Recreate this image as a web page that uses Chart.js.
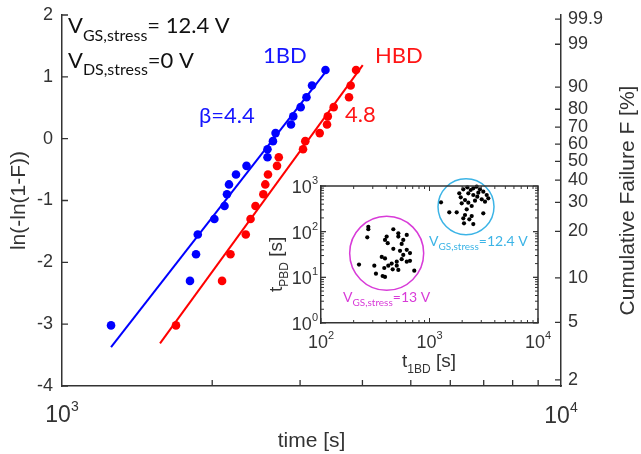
<!DOCTYPE html>
<html>
<head>
<meta charset="utf-8">
<script src="https://cdn.jsdelivr.net/npm/chart.js@4"></script>
<style>
  html, body { margin: 0; padding: 0; background: #fff; }
  #wrap { position: relative; width: 641px; height: 454px; }
  #mainChart { position: absolute; left: 0; top: 0; }
  #insetChart { position: absolute; left: 260px; top: 170px; }
</style>
</head>
<body>
<div id="wrap">
  <canvas id="mainChart" width="641" height="454"></canvas>
  <canvas id="insetChart" width="300" height="210"></canvas>
</div>
<script>
// Weibull plot: ln(-ln(1-F)) for the 20 devices
const weibullY = [-3.02, -2.30, -1.87, -1.55, -1.30, -1.09, -0.90, -0.74, -0.58, -0.44,
                  -0.30, -0.17, -0.04, 0.09, 0.23, 0.36, 0.51, 0.67, 0.86, 1.11];
// time to first breakdown (1BD) and hard breakdown (HBD), seconds
const firstBdTime = [1254, 1805, 1856, 1871, 2020, 2117, 2141, 2161, 2232, 2343,
                     2581, 2581, 2647, 2679, 2877, 2907, 3008, 3090, 3170, 3373];
const hardBdTime = [1692, 2093, 2176, 2335, 2387, 2442, 2532, 2555, 2587, 2697,
                    2719, 3041, 3073, 3284, 3397, 3409, 3503, 3760, 3789, 3884];
// fitted lines (end points)
const firstBdFitX = [1254, 3397];
const firstBdFitY = [-3.37, 1.11];
const hardBdFitX = [1572, 4006];
const hardBdFitY = [-3.31, 1.19];

const leftTicks = [-4, -3, -2, -1, 0, 1, 2];
const rightTickLabels = ['99.9', '99', '90', '80', '70', '60', '50', '40', '30', '20', '10', '5', '2'];
const bottomMinorTicks = [2000, 3000, 4000, 5000, 6000, 7000, 8000, 9000];

// inset: t_PBD versus t_1BD
const t1bd13V = [273, 273, 267, 464, 516, 516, 617, 403, 389, 412, 573, 554, 464, 535, 617, 661, 363, 389,
                 573, 554, 499, 448, 417, 499, 617, 661, 224, 310, 383, 458, 516, 724, 321, 370, 389];
const tpbd13V = [128, 113, 75, 113, 92, 78, 85, 78, 66, 56, 66, 54, 42, 38, 40, 34, 28, 26,
                 31, 25, 22, 20, 18, 18, 22, 23, 19, 18, 16, 15, 14.5, 14, 12, 10.7, 10.2];
const t1bd124V = [1276, 1522, 1781, 1882, 1940, 2049, 2231, 2397, 2533, 2723, 2920, 3132, 3367, 2279, 2533, 2757,
                  3028, 2124, 2279, 2626, 2449, 2203, 3132, 2124, 2049, 2328, 2449, 2533, 2080, 3483, 2818, 1981, 3247];
const tpbd124V = [440, 265, 265, 692, 565, 846, 936, 817, 890, 965, 846, 750, 635, 692, 635, 583,
                  511, 493, 431, 476, 365, 309, 252, 232, 196, 186, 220, 147, 152, 537, 713, 418, 453];
const circleX = [403, 2170];
const circleY = [33.6, 352];
const circleR = [37, 28];
const circleColors = ['#d83bd8', '#3cb4e6'];

const axisFont = '"Liberation Sans", Arial, sans-serif';
const noteFont = 'Lato, "Open Sans", sans-serif';
const axisColor = '#333333';

function richWidth(ctx, parts, family) {
  let w = 0;
  parts.forEach(p => { ctx.font = p.size + 'px ' + family; w += ctx.measureText(p.text).width; });
  return w;
}

function drawRich(ctx, x, y, parts, color, family) {
  ctx.fillStyle = color;
  ctx.textAlign = 'left';
  ctx.textBaseline = 'alphabetic';
  let cx = x;
  parts.forEach(p => {
    ctx.font = p.size + 'px ' + family;
    ctx.fillText(p.text, cx, y + (p.dy || 0));
    cx += ctx.measureText(p.text).width;
  });
}

function drawPower(ctx, x, baseline, exp, size, align) {
  const parts = [{ text: '10', size: size }, { text: exp, size: Math.round(size * 0.62), dy: -size * 0.5 }];
  const w = richWidth(ctx, parts, axisFont);
  const x0 = align === 'right' ? x - w : x - w / 2;
  drawRich(ctx, x0, baseline, parts, axisColor, axisFont);
}

// keep the plot area where the layout padding puts it
function fixWidth(w) {
  return s => { s.width = w; s.paddingTop = 0; s.paddingBottom = 0; };
}

const mainDecor = {
  id: 'mainDecor',
  afterDraw(chart) {
    const { ctx, chartArea: a, scales: { x, y, y2 } } = chart;
    ctx.save();
    ctx.strokeStyle = axisColor;
    ctx.lineWidth = 1.3;
    ctx.beginPath();
    leftTicks.forEach(v => { const py = y.getPixelForValue(v); ctx.moveTo(a.left, py); ctx.lineTo(a.left + 6, py); });
    y2.ticks.forEach(t => { const py = y2.getPixelForValue(t.value); ctx.moveTo(a.right, py); ctx.lineTo(a.right - 6, py); });
    bottomMinorTicks.forEach(v => { const px = x.getPixelForValue(v); ctx.moveTo(px, a.bottom); ctx.lineTo(px, a.bottom - 6); });
    ctx.stroke();

    drawPower(ctx, x.getPixelForValue(1000), a.bottom + 36, '3', 23);
    drawPower(ctx, x.getPixelForValue(10000), a.bottom + 37, '4', 23);

    // right axis title, reading upwards
    ctx.save();
    ctx.translate(628, (a.top + a.bottom) / 2);
    ctx.rotate(-Math.PI / 2);
    ctx.font = '21px ' + axisFont;
    ctx.fillStyle = axisColor;
    ctx.textAlign = 'center';
    ctx.textBaseline = 'middle';
    ctx.fillText('Cumulative Failure F [%]', 0, 0);
    ctx.restore();

    // annotations
    drawRich(ctx, a.left + 6, 33, [{ text: 'V', size: 22 }, { text: 'GS,stress', size: 16, dy: 8 }, { text: '= 12.4 V', size: 22 }], '#111111', noteFont);
    drawRich(ctx, a.left + 6, 68, [{ text: 'V', size: 22 }, { text: 'DS,stress', size: 16, dy: 7 }, { text: '=0 V', size: 22 }], '#111111', noteFont);
    drawRich(ctx, 263, 63, [{ text: '1BD', size: 22 }], '#1515ff', noteFont);
    drawRich(ctx, 199, 123, [{ text: 'β=4.4', size: 22 }], '#1515ff', noteFont);
    drawRich(ctx, 375, 63, [{ text: 'HBD', size: 22 }], '#ff1515', noteFont);
    drawRich(ctx, 345, 122, [{ text: '4.8', size: 22 }], '#ff1515', noteFont);
    ctx.restore();
  }
};

new Chart(document.getElementById('mainChart').getContext('2d'), {
  type: 'scatter',
  data: {
    datasets: [
      { data: firstBdFitX.map((t, i) => ({ x: t, y: firstBdFitY[i] })), showLine: true, borderColor: '#0000ff', borderWidth: 2, pointRadius: 0 },
      { data: hardBdFitX.map((t, i) => ({ x: t, y: hardBdFitY[i] })), showLine: true, borderColor: '#ff0000', borderWidth: 2, pointRadius: 0 },
      { data: firstBdTime.map((t, i) => ({ x: t, y: weibullY[i] })), pointRadius: 4.3, pointBackgroundColor: '#0000ff', pointBorderWidth: 0 },
      { data: hardBdTime.map((t, i) => ({ x: t, y: weibullY[i] })), pointRadius: 4.3, pointBackgroundColor: '#ff0000', pointBorderWidth: 0 }
    ]
  },
  options: {
    responsive: false,
    animation: false,
    layout: { autoPadding: false, padding: { top: 15, left: 0, right: 0, bottom: 0 } },
    plugins: { legend: { display: false }, tooltip: { enabled: false } },
    scales: {
      x: {
        type: 'logarithmic', min: 1000, max: 10000, position: 'bottom',
        grid: { display: false, drawTicks: false },
        border: { display: true, color: axisColor, width: 1.5 },
        ticks: { display: false },
        title: { display: true, text: 'time [s]', color: axisColor, font: { family: axisFont, size: 21 }, padding: 0 },
        afterFit: s => { s.height = 68; }
      },
      y: {
        min: -4, max: 2, position: 'left',
        grid: { display: false, drawTicks: false },
        border: { display: true, color: axisColor, width: 1.5 },
        ticks: { stepSize: 1, padding: 9, color: axisColor, font: { family: axisFont, size: 18 } },
        title: { display: true, text: 'ln(-ln(1-F))', color: axisColor, font: { family: axisFont, size: 21 }, padding: { top: 7, bottom: 0 } },
        afterFit: fixWidth(62)
      },
      y2: {
        min: -4, max: 2, position: 'right',
        grid: { display: false, drawTicks: false },
        border: { display: true, color: axisColor, width: 1.5 },
        afterBuildTicks: s => {
          s.ticks = rightTickLabels.map(l => ({ value: Math.log(-Math.log(1 - parseFloat(l) / 100)) }));
        },
        ticks: { autoSkip: false, padding: 7, color: axisColor, font: { family: axisFont, size: 18 },
                 callback: (v, i) => rightTickLabels[i] },
        afterFit: fixWidth(80)
      }
    }
  },
  plugins: [mainDecor]
});

// inset chart
const insetXMajor = [100, 1000, 10000];
const insetYMajor = [1, 10, 100, 1000];

const insetDecor = {
  id: 'insetDecor',
  afterDraw(chart) {
    const { ctx, chartArea: a, scales: { x, y } } = chart;
    ctx.save();
    ctx.strokeStyle = axisColor;
    ctx.lineWidth = 1.5;
    ctx.beginPath();
    ctx.moveTo(a.left, a.top); ctx.lineTo(a.right, a.top); ctx.lineTo(a.right, a.bottom);
    ctx.stroke();
    ctx.lineWidth = 1;
    ctx.beginPath();
    for (let d = 100; d < 10000; d *= 10) {
      for (let k = 1; k <= 10; k++) {
        const px = x.getPixelForValue(d * k);
        const len = k === 1 || k === 10 ? 5 : 3;
        ctx.moveTo(px, a.bottom); ctx.lineTo(px, a.bottom - len);
        ctx.moveTo(px, a.top); ctx.lineTo(px, a.top + len);
      }
    }
    for (let d = 1; d < 1000; d *= 10) {
      for (let k = 1; k <= 10; k++) {
        const py = y.getPixelForValue(d * k);
        const len = k === 1 || k === 10 ? 5 : 3;
        ctx.moveTo(a.left, py); ctx.lineTo(a.left + len, py);
        ctx.moveTo(a.right, py); ctx.lineTo(a.right - len, py);
      }
    }
    ctx.stroke();

    insetXMajor.forEach(v => drawPower(ctx, x.getPixelForValue(v), a.bottom + 25, String(Math.log10(v)), 18));
    insetYMajor.forEach(v => drawPower(ctx, a.left - 3, y.getPixelForValue(v) + 7, String(Math.log10(v)), 18, 'right'));

    // axis titles
    drawRich(ctx, a.left + 81, a.bottom + 44, [{ text: 't', size: 19 }, { text: '1BD', size: 12, dy: 6 }, { text: ' [s]', size: 19 }], axisColor, axisFont);
    ctx.save();
    ctx.translate(22, 122);
    ctx.rotate(-Math.PI / 2);
    drawRich(ctx, 0, 0, [{ text: 't', size: 19 }, { text: 'PBD', size: 12, dy: 6 }, { text: ' [s]', size: 19 }], axisColor, axisFont);
    ctx.restore();

    // cluster labels
    drawRich(ctx, 83, 132, [{ text: 'V', size: 14 }, { text: 'GS,stress', size: 10, dy: 4 }, { text: '=13 V', size: 14 }], circleColors[0], noteFont);
    drawRich(ctx, 169, 76, [{ text: 'V', size: 14 }, { text: 'GS,stress', size: 10, dy: 4 }, { text: '=12.4 V', size: 14 }], circleColors[1], noteFont);
    ctx.restore();
  }
};

new Chart(document.getElementById('insetChart').getContext('2d'), {
  type: 'scatter',
  data: {
    datasets: [
      { data: circleX.map((t, i) => ({ x: t, y: circleY[i] })), clip: false, pointRadius: circleR,
        pointBackgroundColor: 'rgba(0,0,0,0)', pointBorderColor: circleColors, pointBorderWidth: 1.5 },
      { data: t1bd13V.map((t, i) => ({ x: t, y: tpbd13V[i] })), clip: false, pointRadius: 2.1, pointBackgroundColor: '#000', pointBorderWidth: 0 },
      { data: t1bd124V.map((t, i) => ({ x: t, y: tpbd124V[i] })), clip: false, pointRadius: 2.1, pointBackgroundColor: '#000', pointBorderWidth: 0 }
    ]
  },
  options: {
    responsive: false,
    animation: false,
    layout: { autoPadding: false, padding: { top: 16, right: 22, left: 0, bottom: 0 } },
    plugins: { legend: { display: false }, tooltip: { enabled: false } },
    scales: {
      x: {
        type: 'logarithmic', min: 100, max: 10000,
        grid: { display: false, drawTicks: false },
        border: { display: true, color: axisColor, width: 1.5 },
        ticks: { display: false },
        afterFit: s => { s.height = 57; }
      },
      y: {
        type: 'logarithmic', min: 1, max: 1000,
        grid: { display: false, drawTicks: false },
        border: { display: true, color: axisColor, width: 1.5 },
        ticks: { display: false },
        afterFit: fixWidth(61)
      }
    }
  },
  plugins: [insetDecor]
});
</script>
</body>
</html>
